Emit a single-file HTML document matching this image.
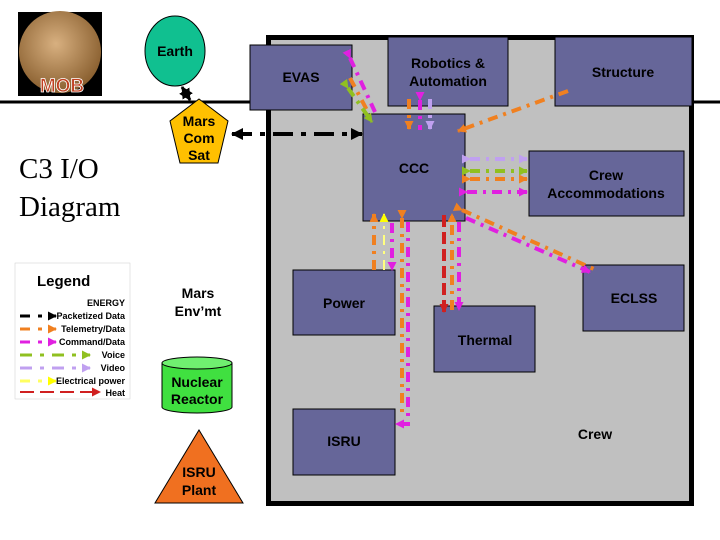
<!DOCTYPE html>
<html><head><meta charset="utf-8"><style>
html,body{margin:0;padding:0;background:#fff;width:720px;height:540px;overflow:hidden}
svg text{font-family:"Liberation Sans",sans-serif;font-weight:bold}
</style></head><body>
<svg width="720" height="540" viewBox="0 0 720 540" xmlns="http://www.w3.org/2000/svg">
<defs>
<marker id="ak" markerWidth="9" markerHeight="9" refX="8" refY="4.5" orient="auto" markerUnits="userSpaceOnUse"><path d="M0,0L9,4.5L0,9z" fill="#000"/></marker>
<marker id="ao" markerWidth="9" markerHeight="9" refX="8" refY="4.5" orient="auto" markerUnits="userSpaceOnUse"><path d="M0,0L9,4.5L0,9z" fill="#f08020"/></marker>
<marker id="am" markerWidth="9" markerHeight="9" refX="8" refY="4.5" orient="auto" markerUnits="userSpaceOnUse"><path d="M0,0L9,4.5L0,9z" fill="#e020e0"/></marker>
<marker id="ag" markerWidth="9" markerHeight="9" refX="8" refY="4.5" orient="auto" markerUnits="userSpaceOnUse"><path d="M0,0L9,4.5L0,9z" fill="#90c020"/></marker>
<marker id="av" markerWidth="9" markerHeight="9" refX="8" refY="4.5" orient="auto" markerUnits="userSpaceOnUse"><path d="M0,0L9,4.5L0,9z" fill="#c0a0f0"/></marker>
<marker id="ay" markerWidth="9" markerHeight="9" refX="8" refY="4.5" orient="auto" markerUnits="userSpaceOnUse"><path d="M0,0L9,4.5L0,9z" fill="#ffff00"/></marker>
<marker id="ar" markerWidth="9" markerHeight="9" refX="8" refY="4.5" orient="auto" markerUnits="userSpaceOnUse"><path d="M0,0L9,4.5L0,9z" fill="#d02020"/></marker>
<marker id="aks" markerWidth="12" markerHeight="12" refX="11" refY="6" orient="auto-start-reverse" markerUnits="userSpaceOnUse"><path d="M0,0L12,6L0,12z" fill="#000"/></marker>
<radialGradient id="mars" cx="45%" cy="40%" r="60%"><stop offset="0" stop-color="#d8b080"/><stop offset="1" stop-color="#8a6030"/></radialGradient>
</defs>
<line x1="0" y1="102" x2="266" y2="102" stroke="#000" stroke-width="3"/>
<line x1="693" y1="102" x2="720" y2="102" stroke="#000" stroke-width="3"/>
<rect x="18" y="12" width="84" height="84" fill="#000"/>
<circle cx="60" cy="52" r="41" fill="url(#mars)"/>
<text x="62" y="92" font-size="19" font-weight="bold" fill="#c04020" stroke="#fff" stroke-width="0.8" text-anchor="middle">MOB</text>
<text x="19" y="178" font-size="29" style="font-family:'Liberation Serif',serif;font-weight:normal">C3 I/O</text>
<text x="19" y="216" font-size="29" style="font-family:'Liberation Serif',serif;font-weight:normal">Diagram</text>
<ellipse cx="175" cy="51" rx="30" ry="35" fill="#10c090" stroke="#000"/>
<text x="175" y="56" font-size="14" font-weight="bold" text-anchor="middle">Earth</text>
<line x1="182" y1="87" x2="190" y2="100" stroke="#000" stroke-width="3" stroke-dasharray="4,2" marker-start="url(#aks)" marker-end="url(#aks)"/>
<polygon points="199,99 228,121 218,163 180,163 170,121" fill="#ffc000" stroke="#000"/>
<g font-size="14" font-weight="bold" text-anchor="middle">
<text x="199" y="126">Mars</text>
<text x="199" y="143">Com</text>
<text x="199" y="160">Sat</text>
</g>
<rect x="15" y="263" width="115" height="136" fill="#fff" stroke="#ccc" stroke-width="0.5"/>
<text x="37" y="286" font-size="15" font-weight="bold">Legend</text>
<g font-size="9" style="font-family:'Liberation Sans',sans-serif;font-weight:normal" text-anchor="end">
<text x="125" y="306">ENERGY</text>
<text x="125" y="319">Packetized Data</text>
<text x="125" y="332">Telemetry/Data</text>
<text x="125" y="345">Command/Data</text>
<text x="125" y="358">Voice</text>
<text x="125" y="371">Video</text>
<text x="125" y="384">Electrical power</text>
<text x="125" y="396">Heat</text>
</g>
<line x1="20" y1="316" x2="56" y2="316" stroke="#000" stroke-width="3" stroke-dasharray="10,8,4,8" marker-end="url(#ak)"/>
<line x1="20" y1="329" x2="56" y2="329" stroke="#f08020" stroke-width="3" stroke-dasharray="10,8,4,8" marker-end="url(#ao)"/>
<line x1="20" y1="342" x2="56" y2="342" stroke="#e020e0" stroke-width="3" stroke-dasharray="10,8,4,8" marker-end="url(#am)"/>
<line x1="20" y1="355" x2="90" y2="355" stroke="#90c020" stroke-width="3" stroke-dasharray="12,8,4,8" marker-end="url(#ag)"/>
<line x1="20" y1="368" x2="90" y2="368" stroke="#c0a0f0" stroke-width="3" stroke-dasharray="12,8,4,8" marker-end="url(#av)"/>
<line x1="20" y1="381" x2="56" y2="381" stroke="#ffff60" stroke-width="3" stroke-dasharray="10,8,4,8" marker-end="url(#ay)"/>
<line x1="20" y1="392" x2="100" y2="392" stroke="#d02020" stroke-width="2" stroke-dasharray="14,6" marker-end="url(#ar)"/>
<g font-size="14" font-weight="bold" text-anchor="middle">
<text x="198" y="298">Mars</text>
<text x="198" y="316">Env’mt</text>
</g>
<path d="M162,363 L162,407 A35,6 0 0 0 232,407 L232,363" fill="#40e040" stroke="#000"/>
<ellipse cx="197" cy="363" rx="35" ry="6" fill="#70f070" stroke="#000"/>
<g font-size="14" font-weight="bold" text-anchor="middle">
<text x="197" y="387">Nuclear</text>
<text x="197" y="404">Reactor</text>
</g>
<polygon points="199,430 243,503 155,503" fill="#f07020" stroke="#000"/>
<g font-size="14" font-weight="bold" text-anchor="middle">
<text x="199" y="477">ISRU</text>
<text x="199" y="495">Plant</text>
</g>
<rect x="268.5" y="37.5" width="423" height="466" fill="#c0c0c0" stroke="#000" stroke-width="5"/>
<g fill="#666699" stroke="#000" stroke-width="1">
<rect x="250" y="45" width="102" height="65"/>
<rect x="388" y="37" width="120" height="69"/>
<rect x="555" y="37" width="137" height="69"/>
<rect x="363" y="114" width="102" height="107"/>
<rect x="529" y="151" width="155" height="65"/>
<rect x="293" y="270" width="102" height="65"/>
<rect x="583" y="265" width="101" height="66"/>
<rect x="434" y="306" width="101" height="66"/>
<rect x="293" y="409" width="102" height="66"/>
</g>
<g font-size="14" font-weight="bold" text-anchor="middle">
<text x="301" y="82">EVAS</text>
<text x="448" y="68">Robotics &amp;</text>
<text x="448" y="86">Automation</text>
<text x="623" y="77">Structure</text>
<text x="414" y="173">CCC</text>
<text x="606" y="180">Crew</text>
<text x="606" y="198">Accommodations</text>
<text x="344" y="308">Power</text>
<text x="634" y="303">ECLSS</text>
<text x="485" y="345">Thermal</text>
<text x="344" y="446">ISRU</text>
<text x="595" y="439">Crew</text>
</g>
<line x1="232" y1="134" x2="362" y2="134" stroke="#000" stroke-width="4" stroke-dasharray="20,8,5,8" marker-start="url(#aks)" marker-end="url(#aks)"/>
<g stroke-width="4" fill="none" stroke-dasharray="10,6,3,6">
<line x1="350" y1="58" x2="375" y2="112" stroke="#e020e0" marker-start="url(#am)"/>
<line x1="350" y1="78" x2="369" y2="114" stroke="#f08020"/>
<line x1="348" y1="88" x2="372" y2="122" stroke="#90c020" marker-start="url(#ag)" marker-end="url(#ag)"/>
<line x1="409" y1="99" x2="409" y2="129" stroke="#f08020" marker-end="url(#ao)"/>
<line x1="420" y1="100" x2="420" y2="130" stroke="#e020e0" marker-start="url(#am)"/>
<line x1="430" y1="99" x2="430" y2="129" stroke="#c0a0f0" marker-end="url(#av)"/>
<line x1="568" y1="91" x2="458" y2="131" stroke="#f08020" marker-end="url(#ao)"/>
<line x1="470" y1="159" x2="527" y2="159" stroke="#c0a0f0" marker-start="url(#av)" marker-end="url(#av)"/>
<line x1="470" y1="171" x2="527" y2="171" stroke="#90c020" marker-start="url(#ag)" marker-end="url(#ag)"/>
<line x1="470" y1="179" x2="527" y2="179" stroke="#f08020" marker-start="url(#ao)" marker-end="url(#ao)"/>
<line x1="467" y1="192" x2="527" y2="192" stroke="#e020e0" marker-start="url(#am)" marker-end="url(#am)"/>
<line x1="462" y1="210" x2="596" y2="270" stroke="#f08020" marker-start="url(#ao)"/>
<line x1="466" y1="218" x2="590" y2="272" stroke="#e020e0" marker-end="url(#am)"/>
<line x1="374" y1="270" x2="374" y2="214" stroke="#f08020" marker-end="url(#ao)"/>
<line x1="384" y1="270" x2="384" y2="214" stroke="#ffff80" stroke-width="2" marker-end="url(#ay)"/>
<line x1="392" y1="223" x2="392" y2="270" stroke="#e020e0" marker-end="url(#am)"/>
<path d="M402,218 L402,418" stroke="#f08020" marker-start="url(#ao)"/>
<path d="M408,222 L408,424 L396,424" stroke="#e020e0" marker-end="url(#am)"/>
<line x1="444" y1="215" x2="444" y2="312" stroke="#d02020" stroke-dasharray="12,5" marker-end="url(#ar)"/>
<line x1="452" y1="310" x2="452" y2="214" stroke="#f08020" marker-end="url(#ao)"/>
<line x1="459" y1="222" x2="459" y2="310" stroke="#e020e0" marker-end="url(#am)"/>
</g>
</svg>
</body></html>
